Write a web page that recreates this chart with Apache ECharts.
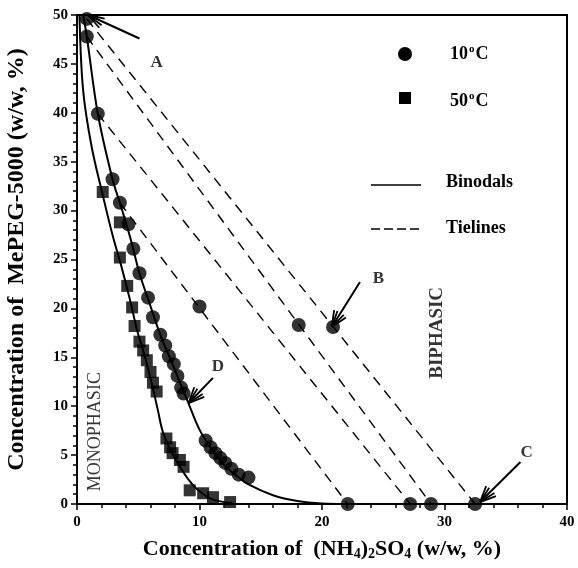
<!DOCTYPE html>
<html><head><meta charset="utf-8">
<script src="https://cdn.jsdelivr.net/npm/echarts@6/dist/echarts.min.js"></script>
<style>html,body{margin:0;padding:0;background:#fff}#c{width:578px;height:568px}</style>
</head><body><div id="c"></div>
<script>
// ---- data ----
const xTicks = [0, 10, 20, 30, 40];
const yTicks = [0, 5, 10, 15, 20, 25, 30, 35, 40, 45, 50];
// 10 °C experimental binodal points
const pts10 = [[0.8,49.6],[0.8,47.8],[1.7,39.9],[2.9,33.2],[3.5,30.8],[4.2,28.6],[4.6,26.1],[5.1,23.6],[5.8,21.1],[6.2,19.1],[6.8,17.3],[7.2,16.2],[7.5,15.1],[7.9,14.3],[8.2,13.1],[8.5,11.9],[8.7,11.3],[10.5,6.5],[10.9,5.8],[11.3,5.2],[11.7,4.7],[12.1,4.2],[12.6,3.6],[13.2,3.0],[14.0,2.7]];
// 10 °C tieline points (total compositions and bottom phases)
const tiePts10 = [[10.0,20.2],[18.1,18.3],[20.9,18.1],[22.1,0],[27.2,0],[28.9,0],[32.5,0]];
// 50 °C experimental binodal points
const pts50 = [[2.1,31.9],[3.5,28.8],[3.5,25.2],[4.1,22.3],[4.5,20.1],[4.7,18.2],[5.1,16.6],[5.4,15.7],[5.7,14.7],[6.0,13.5],[6.2,12.4],[6.5,11.5],[7.3,6.7],[7.6,5.8],[7.8,5.2],[8.4,4.5],[8.7,3.8],[9.2,1.4],[10.3,1.1],[11.1,0.7],[12.5,0.2]];
// fitted binodal curves (traced)
const binodal10 = [[0.5,50],[0.8,47.8],[1.7,39.9],[2.9,33.2],[3.6,30.4],[4.4,27.0],[5.1,23.6],[5.9,20.6],[6.8,17.3],[7.7,14.6],[8.5,12.1],[9.1,10.3],[10.0,7.6],[11.0,5.6],[12.0,4.0],[13.0,2.9],[14.0,2.0],[16.0,0.9],[18.0,0.3],[20.0,0.05],[22.0,0]];
const binodal50 = [[0.2,50],[0.5,42.3],[1.2,36.5],[2.1,31.6],[2.9,27.5],[3.6,24.4],[4.3,21.0],[4.9,17.8],[5.6,14.8],[6.2,11.8],[6.6,9.6],[7.0,7.4],[7.6,5.6],[8.4,3.8],[9.1,2.5],[9.8,1.5],[11.0,0.5],[12.7,0.1]];
// tielines: [top phase, bottom phase]
const tielines = [[[0.8,49.6],[32.5,0]],[[0.8,47.8],[28.9,0]],[[1.7,39.9],[27.2,0]],[[3.5,30.8],[22.1,0]]];
// arrows: [tail x, tail y, tip x, tip y]
const arrows = [[5.1,47.6,0.9,50.0],[23.1,22.7,20.8,18.1],[36.2,4.3,32.9,0.2],[11.1,12.9,9.1,10.3]];
// annotation letters
const letters = [['A',6.5,45.1],['B',24.6,23.0],['C',36.7,5.3],['D',11.5,14.0]];
const regionLabels = [['MONOPHASIC',1.5,7.4,'normal',18],['BIPHASIC',29.4,17.5,'bold',19]];

const FONT = 'Liberation Serif';
const chart = echarts.init(document.getElementById('c'), null, {renderer:'canvas'});

const series = [];
series.push({type:'line', data:binodal50, smooth:0.35, showSymbol:false, lineStyle:{color:'#000', width:2}, z:2, clip:false});
series.push({type:'line', data:binodal10, smooth:0.35, showSymbol:false, lineStyle:{color:'#000', width:2}, z:2, clip:false});
tielines.forEach(t => series.push({type:'line', data:t, showSymbol:false, lineStyle:{color:'#000', width:1.4, type:[10,7]}, z:2}));
series.push({type:'scatter', data:pts50, symbol:'rect', symbolSize:12, itemStyle:{color:'#000'}, z:4, clip:false});
series.push({type:'scatter', data:pts10.concat(tiePts10), symbol:'circle', symbolSize:14, itemStyle:{color:'#000'}, z:5, clip:false});
series.push({type:'custom', data:arrows, clip:false, z:6,
  renderItem:(params, api) => {
    const tail = api.coord([api.value(0), api.value(1)]);
    const tip = api.coord([api.value(2), api.value(3)]);
    const ang = Math.atan2(tail[1]-tip[1], tail[0]-tip[0]);
    const ch = [{type:'line', shape:{x1:tail[0],y1:tail[1],x2:tip[0],y2:tip[1]}, style:{stroke:'#000',lineWidth:2}}];
    [-0.42,-0.22,0.22,0.42].forEach(d => {
      const L = 17;
      ch.push({type:'line', shape:{x1:tip[0],y1:tip[1],x2:tip[0]+L*Math.cos(ang+d),y2:tip[1]+L*Math.sin(ang+d)}, style:{stroke:'#000',lineWidth:1.8}});
    });
    return {type:'group', children:ch};
  }
});
series.push({type:'scatter', data:letters.map(l => ({value:[l[1],l[2]], name:l[0]})), symbolSize:0, clip:false, z:7,
  label:{show:true, position:'inside', formatter:p => p.name, fontFamily:FONT, fontWeight:'bold', fontSize:17, color:'#000'}});
series.push({type:'scatter', data:regionLabels.map(l => ({value:[l[1],l[2]], name:l[0], label:{fontWeight:l[3], fontSize:l[4]}})), symbolSize:0, clip:false, z:7,
  label:{show:true, position:'inside', rotate:90, formatter:p => p.name, fontFamily:FONT, color:'#000'}});

chart.setOption({
  animation:false,
  grid:{left:77, right:11, top:15, bottom:64, show:true, borderColor:'#000', borderWidth:2, containLabel:false, outerBoundsMode:'none'},
  xAxis:{type:'value', min:xTicks[0], max:xTicks[xTicks.length-1], interval:10,
    axisLine:{lineStyle:{color:'#000', width:2}}, axisTick:{length:6, lineStyle:{width:1.5}, inside:false},
    minorTick:{show:true, splitNumber:5, length:4, lineStyle:{color:'#000', width:1.5}},
    splitLine:{show:false},
    axisLabel:{fontFamily:FONT, fontWeight:'bold', fontSize:15, color:'#000', margin:11},
    name:'{a|Concentration of  (NH}{s|4}{a|)}{s|2}{a|SO}{s|4}{a| (w/w, %)}', nameLocation:'middle', nameGap:33,
    nameTextStyle:{rich:{a:{fontFamily:FONT, fontWeight:'bold', fontSize:22, color:'#000', lineHeight:24}, s:{fontFamily:FONT, fontWeight:'bold', fontSize:14, color:'#000', lineHeight:24, verticalAlign:'bottom', padding:[11,0,0,0]}}}
  },
  yAxis:{type:'value', min:yTicks[0], max:yTicks[yTicks.length-1], interval:5,
    axisLine:{show:true, lineStyle:{color:'#000', width:2}}, axisTick:{show:true, length:6, lineStyle:{width:1.5}},
    minorTick:{show:true, splitNumber:5, length:4, lineStyle:{color:'#000', width:1.5}},
    splitLine:{show:false},
    axisLabel:{fontFamily:FONT, fontWeight:'bold', fontSize:15, color:'#000', margin:9},
    name:'Concentration of  MePEG-5000 (w/w, %)', nameLocation:'middle', nameGap:48, nameRotate:90,
    nameTextStyle:{fontFamily:FONT, fontWeight:'bold', fontSize:24, color:'#000'}
  },
  graphic:[
    {type:'circle', shape:{cx:405, cy:54, r:7}, style:{fill:'#000'}},
    {type:'text', x:450, y:54, style:{text:'{a|10}{s|o}{a|C}', rich:{a:{fontFamily:FONT, fontWeight:'bold', fontSize:18, fill:'#000', lineHeight:20}, s:{fontFamily:FONT, fontWeight:'bold', fontSize:11, fill:'#000', verticalAlign:'top', lineHeight:20, padding:[0,1,8,1]}}, verticalAlign:'middle'}},
    {type:'rect', shape:{x:399, y:92, width:12, height:12}, style:{fill:'#000'}},
    {type:'text', x:450, y:101, style:{text:'{a|50}{s|o}{a|C}', rich:{a:{fontFamily:FONT, fontWeight:'bold', fontSize:18, fill:'#000', lineHeight:20}, s:{fontFamily:FONT, fontWeight:'bold', fontSize:11, fill:'#000', verticalAlign:'top', lineHeight:20, padding:[0,1,8,1]}}, verticalAlign:'middle'}},
    {type:'line', shape:{x1:371, y1:185, x2:421, y2:185}, style:{stroke:'#000', lineWidth:1.5}},
    {type:'text', x:446, y:182, style:{text:'Binodals', fontFamily:FONT, fontWeight:'bold', fontSize:18, fill:'#000', verticalAlign:'middle'}},
    {type:'line', shape:{x1:371, y1:229, x2:421, y2:229}, style:{stroke:'#000', lineWidth:1.5, lineDash:[9,4]}},
    {type:'text', x:446, y:228, style:{text:'Tielines', fontFamily:FONT, fontWeight:'bold', fontSize:18, fill:'#000', verticalAlign:'middle'}}
  ],
  series:series
});
</script></body></html>
